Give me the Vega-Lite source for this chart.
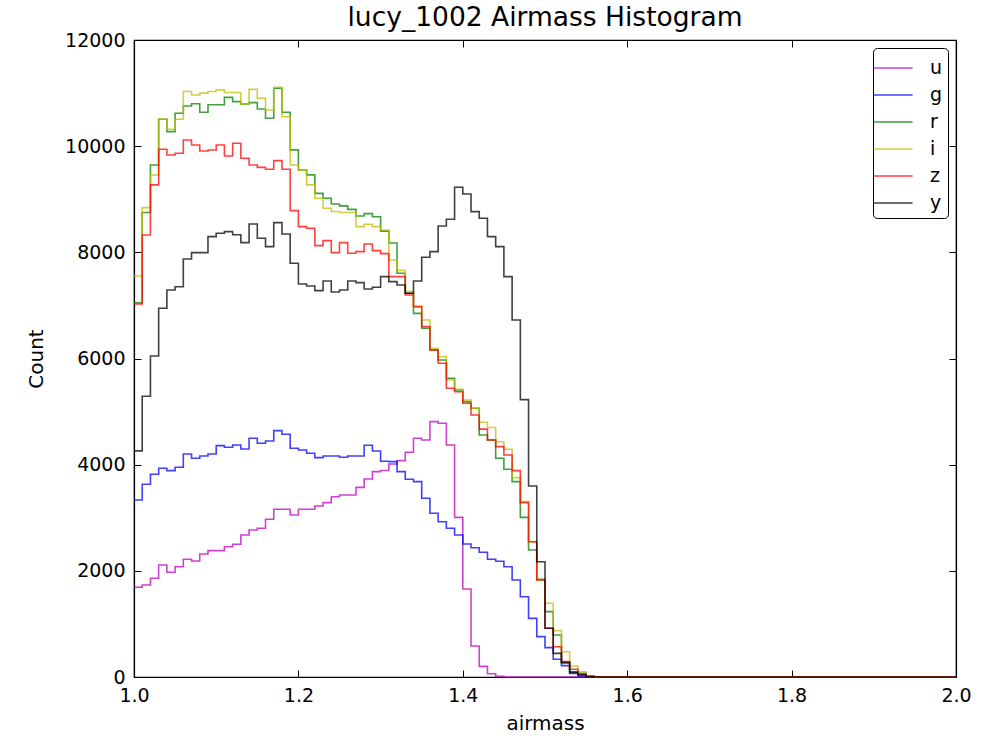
{
  "$schema": "https://vega.github.io/schema/vega-lite/v6.json",
  "width": 822,
  "height": 637,
  "autosize": "none",
  "padding": {"left": 134, "top": 40, "right": 42, "bottom": 66},
  "background": "white",
  "title": {"text": "lucy_1002 Airmass Histogram", "fontSize": 26.5, "font": "DejaVu Sans", "fontWeight": "normal", "color": "black", "baseline": "alphabetic", "offset": -21},
  "data": {"values": [
    {"airmass": 1.00, "u": 1690, "g": 3335, "r": 7050, "i": 7555, "z": 7027, "y": 4260},
    {"airmass": 1.01, "u": 1733, "g": 3630, "r": 8750, "i": 8842, "z": 8327, "y": 5290},
    {"airmass": 1.02, "u": 1859, "g": 3819, "r": 9646, "i": 9457, "z": 9270, "y": 6048},
    {"airmass": 1.03, "u": 2110, "g": 3932, "r": 10507, "i": 10507, "z": 9942, "y": 6946},
    {"airmass": 1.04, "u": 1972, "g": 3887, "r": 10274, "i": 10318, "z": 9835, "y": 7291},
    {"airmass": 1.05, "u": 2078, "g": 3950, "r": 10620, "i": 10507, "z": 9866, "y": 7353},
    {"airmass": 1.06, "u": 2217, "g": 4201, "r": 10757, "i": 11030, "z": 10117, "y": 7875},
    {"airmass": 1.07, "u": 2185, "g": 4120, "r": 10800, "i": 10965, "z": 10023, "y": 7995},
    {"airmass": 1.08, "u": 2317, "g": 4163, "r": 10640, "i": 11000, "z": 9910, "y": 7995},
    {"airmass": 1.09, "u": 2380, "g": 4201, "r": 10780, "i": 11030, "z": 9928, "y": 8295},
    {"airmass": 1.10, "u": 2380, "g": 4358, "r": 10780, "i": 11060, "z": 10023, "y": 8360},
    {"airmass": 1.11, "u": 2455, "g": 4327, "r": 10920, "i": 11010, "z": 9816, "y": 8390},
    {"airmass": 1.12, "u": 2500, "g": 4371, "r": 10840, "i": 11010, "z": 10055, "y": 8330},
    {"airmass": 1.13, "u": 2675, "g": 4296, "r": 10795, "i": 10795, "z": 9772, "y": 8183},
    {"airmass": 1.14, "u": 2769, "g": 4497, "r": 10820, "i": 11070, "z": 9646, "y": 8535},
    {"airmass": 1.15, "u": 2801, "g": 4403, "r": 10700, "i": 10900, "z": 9600, "y": 8265},
    {"airmass": 1.16, "u": 2971, "g": 4446, "r": 10525, "i": 10680, "z": 9565, "y": 8107},
    {"airmass": 1.17, "u": 3159, "g": 4641, "r": 11090, "i": 11110, "z": 9727, "y": 8560},
    {"airmass": 1.18, "u": 3159, "g": 4572, "r": 10640, "i": 10555, "z": 9565, "y": 8346},
    {"airmass": 1.19, "u": 3052, "g": 4308, "r": 9930, "i": 9645, "z": 8786, "y": 7794},
    {"airmass": 1.20, "u": 3159, "g": 4277, "r": 9550, "i": 9550, "z": 8485, "y": 7404},
    {"airmass": 1.21, "u": 3159, "g": 4214, "r": 9460, "i": 9270, "z": 8453, "y": 7366},
    {"airmass": 1.22, "u": 3222, "g": 4132, "r": 9110, "i": 9020, "z": 8126, "y": 7278},
    {"airmass": 1.23, "u": 3284, "g": 4163, "r": 9020, "i": 8830, "z": 8220, "y": 7460},
    {"airmass": 1.24, "u": 3397, "g": 4163, "r": 8910, "i": 8770, "z": 7995, "y": 7253},
    {"airmass": 1.25, "u": 3429, "g": 4139, "r": 8875, "i": 8750, "z": 8183, "y": 7291},
    {"airmass": 1.26, "u": 3429, "g": 4163, "r": 8810, "i": 8750, "z": 7982, "y": 7460},
    {"airmass": 1.27, "u": 3573, "g": 4163, "r": 8685, "i": 8485, "z": 8013, "y": 7429},
    {"airmass": 1.28, "u": 3730, "g": 4365, "r": 8730, "i": 8530, "z": 8157, "y": 7310},
    {"airmass": 1.29, "u": 3868, "g": 4258, "r": 8670, "i": 8485, "z": 8032, "y": 7341},
    {"airmass": 1.30, "u": 3890, "g": 4065, "r": 8400, "i": 8420, "z": 7975, "y": 7542},
    {"airmass": 1.31, "u": 4013, "g": 4057, "r": 8177, "i": 7856, "z": 7542, "y": 7448},
    {"airmass": 1.32, "u": 4076, "g": 3868, "r": 7605, "i": 7660, "z": 7542, "y": 7385},
    {"airmass": 1.33, "u": 4233, "g": 3725, "r": 7228, "i": 7260, "z": 7197, "y": 7228},
    {"airmass": 1.34, "u": 4497, "g": 3680, "r": 6850, "i": 6977, "z": 6977, "y": 7460},
    {"airmass": 1.35, "u": 4465, "g": 3367, "r": 6570, "i": 6726, "z": 6600, "y": 7907},
    {"airmass": 1.36, "u": 4810, "g": 3084, "r": 6160, "i": 6190, "z": 6160, "y": 8013},
    {"airmass": 1.37, "u": 4780, "g": 2926, "r": 5973, "i": 6035, "z": 5910, "y": 8497},
    {"airmass": 1.38, "u": 4371, "g": 2801, "r": 5627, "i": 5600, "z": 5440, "y": 8623},
    {"airmass": 1.39, "u": 3008, "g": 2675, "r": 5407, "i": 5420, "z": 5375, "y": 9226},
    {"airmass": 1.40, "u": 1658, "g": 2506, "r": 5188, "i": 5219, "z": 5157, "y": 9100},
    {"airmass": 1.41, "u": 584, "g": 2436, "r": 5062, "i": 5062, "z": 4936, "y": 8767},
    {"airmass": 1.42, "u": 200, "g": 2350, "r": 4560, "i": 4800, "z": 4670, "y": 8642},
    {"airmass": 1.43, "u": 60, "g": 2217, "r": 4465, "i": 4700, "z": 4465, "y": 8295},
    {"airmass": 1.44, "u": 15, "g": 2180, "r": 4120, "i": 4433, "z": 4339, "y": 8107},
    {"airmass": 1.45, "u": 0, "g": 2078, "r": 3913, "i": 4290, "z": 4182, "y": 7542},
    {"airmass": 1.46, "u": 0, "g": 1827, "r": 3680, "i": 3755, "z": 3887, "y": 6726},
    {"airmass": 1.47, "u": 0, "g": 1513, "r": 3008, "i": 3303, "z": 3284, "y": 5225},
    {"airmass": 1.48, "u": 0, "g": 1105, "r": 2393, "i": 2549, "z": 2549, "y": 3598},
    {"airmass": 1.49, "u": 0, "g": 760, "r": 1840, "i": 1827, "z": 1827, "y": 2172},
    {"airmass": 1.50, "u": 0, "g": 553, "r": 1231, "i": 1388, "z": 917, "y": 917},
    {"airmass": 1.51, "u": 0, "g": 333, "r": 791, "i": 873, "z": 571, "y": 446},
    {"airmass": 1.52, "u": 0, "g": 214, "r": 270, "i": 477, "z": 289, "y": 270},
    {"airmass": 1.53, "u": 0, "g": 69, "r": 100, "i": 207, "z": 145, "y": 88},
    {"airmass": 1.54, "u": 0, "g": 20, "r": 70, "i": 100, "z": 57, "y": 40},
    {"airmass": 1.55, "u": 0, "g": 5, "r": 20, "i": 20, "z": 10, "y": 10},
    {"airmass": 1.56, "u": 0, "g": 0, "r": 5, "i": 5, "z": 0, "y": 0},
    {"airmass": 1.57, "u": 0, "g": 0, "r": 0, "i": 0, "z": 0, "y": 0},
    {"airmass": 2.00, "u": 0, "g": 0, "r": 0, "i": 0, "z": 0, "y": 0}
  ]},
  "transform": [{"fold": ["u", "g", "r", "i", "z", "y"], "as": ["band", "count"]}],
  "layer": [
    {
      "mark": {"type": "line", "interpolate": "step-after", "strokeWidth": 1.6, "opacity": 0.75},
      "encoding": {
        "x": {"field": "airmass", "type": "quantitative",
              "scale": {"domain": [1, 2], "nice": false, "zero": false},
              "axis": {"values": [1, 1.2, 1.4, 1.6, 1.8, 2], "format": ".1f", "title": "airmass", "orient": "bottom", "titlePadding": 8}},
        "y": {"field": "count", "type": "quantitative",
              "scale": {"domain": [0, 12000], "nice": false},
              "axis": {"values": [0, 2000, 4000, 6000, 8000, 10000, 12000], "format": "d", "title": "Count", "orient": "left", "titlePadding": 18}},
        "color": {"field": "band", "type": "nominal",
                  "scale": {"domain": ["u", "g", "r", "i", "z", "y"], "range": ["#bf00bf", "#0000ff", "#008000", "#bfbf00", "#ff0000", "#000000"]},
                  "legend": {"title": null, "orient": "top-right", "offset": 8, "symbolType": "M-1.4,0H1.4", "symbolSize": 784, "symbolStrokeWidth": 1.6, "labelFontSize": 19, "labelFont": "DejaVu Sans", "labelColor": "black", "strokeColor": "black", "cornerRadius": 4, "padding": 5, "fillColor": "white", "labelOffset": 22}}
      }
    },
    {
      "mark": {"type": "line", "opacity": 0},
      "encoding": {
        "x": {"field": "airmass", "type": "quantitative",
              "axis": {"values": [1, 1.2, 1.4, 1.6, 1.8, 2], "orient": "top", "labels": false, "title": null}},
        "y": {"field": "count", "type": "quantitative",
              "axis": {"values": [0, 2000, 4000, 6000, 8000, 10000, 12000], "orient": "right", "labels": false, "title": null}}
      }
    }
  ],
  "resolve": {"axis": {"x": "independent", "y": "independent"}},
  "config": {
    "view": {"stroke": "black", "strokeWidth": 1.2},
    "font": "DejaVu Sans",
    "axis": {
      "grid": false,
      "domainColor": "black",
      "domainWidth": 1.2,
      "tickColor": "black",
      "tickWidth": 1,
      "tickSize": -7,
      "labelPadding": 16,
      "labelFont": "DejaVu Sans",
      "labelFontSize": 19,
      "labelColor": "black",
      "titleFont": "DejaVu Sans",
      "titleFontSize": 20,
      "titleFontWeight": "normal",
      "titleColor": "black",
      "labelFlush": false,
      "labelOverlap": false
    }
  }
}
